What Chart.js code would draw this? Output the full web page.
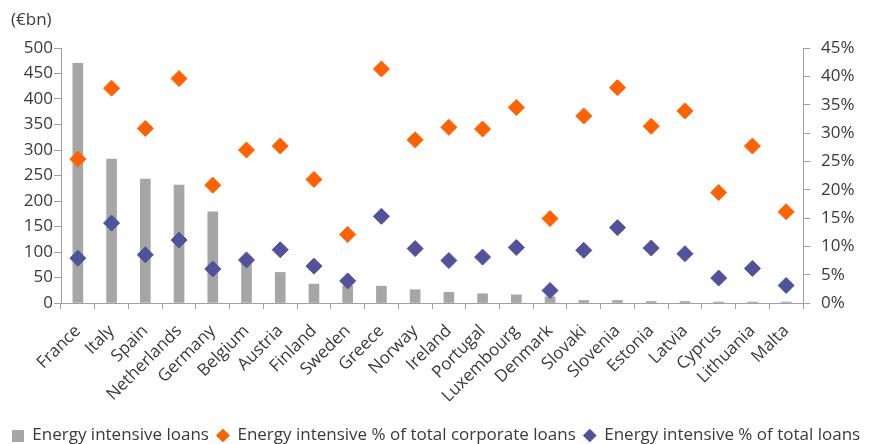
<!DOCTYPE html>
<html>
<head>
<meta charset="utf-8">
<script src="https://cdn.jsdelivr.net/npm/chart.js@4/dist/chart.umd.min.js"></script>
<style>
  html, body { margin: 0; padding: 0; background: #ffffff; }
  #wrap { width: 872px; height: 444px; }
</style>
</head>
<body>
<div id="wrap"><canvas id="chart" width="872" height="444"></canvas></div>
<script>
// Countries on the category axis
const countries = ['France', 'Italy', 'Spain', 'Netherlands', 'Germany', 'Belgium', 'Austria',
  'Finland', 'Sweden', 'Greece', 'Norway', 'Ireland', 'Portugal', 'Luxembourg', 'Denmark',
  'Slovaki', 'Slovenia', 'Estonia', 'Latvia', 'Cyprus', 'Lithuania', 'Malta'];

// Energy intensive loans (€bn)
const energyLoans = [470, 282, 243, 231, 179, 80, 60, 37, 34, 33, 26, 21, 18, 16, 12,
  5, 5, 3, 3, 2, 2, 2];

// Energy intensive share of total corporate loans (%)
const shareCorporate = [25.4, 37.9, 30.8, 39.6, 20.8, 27.0, 27.7, 21.8, 12.1, 41.3, 28.8,
  31.0, 30.7, 34.5, 14.9, 33.0, 38.0, 31.2, 33.9, 19.5, 27.7, 16.1];

// Energy intensive share of total loans (%)
const shareTotal = [7.9, 14.1, 8.5, 11.1, 6.0, 7.6, 9.4, 6.5, 3.9, 15.3, 9.6, 7.5, 8.1,
  9.8, 2.2, 9.3, 13.3, 9.7, 8.7, 4.4, 6.1, 3.1];

// Axis ranges
const leftAxis = { min: 0, max: 500, step: 50 };
const rightAxis = { min: 0, max: 45, step: 5 };

const GREY = '#a6a6a6';
const ORANGE = '#ff6200';
const PURPLE = '#525199';
const TEXT = '#3a3a3a';
const AXIS = '#a0a0a0';
const FONT = "'Open Sans', 'DejaVu Sans', sans-serif";

// small square used as the legend marker of the bar series
const squareMarker = document.createElement('canvas');
squareMarker.width = 12;
squareMarker.height = 12;
(function () {
  const c = squareMarker.getContext('2d');
  c.fillStyle = GREY;
  c.fillRect(0, 0, 12, 12);
})();

// unit label above the left axis
const unitLabel = {
  id: 'unitLabel',
  afterDraw(chart) {
    const ctx = chart.ctx;
    ctx.save();
    ctx.font = '17px ' + FONT;
    ctx.fillStyle = TEXT;
    ctx.textAlign = 'left';
    ctx.textBaseline = 'middle';
    ctx.fillText('(€bn)', 11, 20);
    ctx.restore();
  }
};

new Chart(document.getElementById('chart'), {
  type: 'bar',
  data: {
    labels: countries,
    datasets: [
      {
        type: 'bar',
        label: 'Energy intensive loans',
        data: energyLoans,
        backgroundColor: GREY,
        borderWidth: 0,
        barThickness: 10,
        yAxisID: 'y',
        pointStyle: squareMarker,
        order: 2
      },
      {
        type: 'line',
        label: 'Energy intensive % of total corporate loans',
        data: shareCorporate,
        showLine: false,
        pointStyle: 'rectRot',
        pointRadius: 8,
        pointHoverRadius: 8,
        pointBackgroundColor: ORANGE,
        pointBorderColor: ORANGE,
        pointBorderWidth: 1,
        backgroundColor: ORANGE,
        borderColor: ORANGE,
        yAxisID: 'y1',
        order: 1
      },
      {
        type: 'line',
        label: 'Energy intensive % of total loans',
        data: shareTotal,
        showLine: false,
        pointStyle: 'rectRot',
        pointRadius: 8,
        pointHoverRadius: 8,
        pointBackgroundColor: PURPLE,
        pointBorderColor: PURPLE,
        pointBorderWidth: 1,
        backgroundColor: PURPLE,
        borderColor: PURPLE,
        yAxisID: 'y1',
        order: 1
      }
    ]
  },
  options: {
    responsive: false,
    animation: false,
    devicePixelRatio: 1,
    layout: { padding: { top: 48, left: 0, right: 0, bottom: -10 } },
    plugins: {
      tooltip: { enabled: false },
      legend: {
        position: 'bottom',
        labels: {
          usePointStyle: true,
          boxWidth: 12,
          boxHeight: 9,
          padding: 8,
          color: TEXT,
          font: { family: FONT, size: 17 },
          sort: (a, b) => a.datasetIndex - b.datasetIndex
        }
      }
    },
    scales: {
      x: {
        offset: true,
        grid: {
          offset: true,
          drawOnChartArea: false,
          color: AXIS,
          tickLength: 6,
          tickColor: AXIS
        },
        border: { color: AXIS, width: 1 },
        ticks: {
          autoSkip: false,
          maxRotation: 45,
          minRotation: 45,
          padding: 12,
          color: TEXT,
          font: { family: FONT, size: 17 }
        },
        afterFit(scale) { scale.height = 116; }
      },
      y: {
        position: 'left',
        min: leftAxis.min,
        max: leftAxis.max,
        grid: { drawOnChartArea: false, tickLength: 7, color: AXIS },
        border: { color: AXIS, width: 1 },
        ticks: {
          stepSize: leftAxis.step,
          padding: 1,
          color: TEXT,
          font: { family: FONT, size: 17 }
        },
        afterFit(scale) { scale.width = 61; }
      },
      y1: {
        position: 'right',
        min: rightAxis.min,
        max: rightAxis.max,
        grid: { drawOnChartArea: false, tickLength: 7, color: AXIS },
        border: { color: AXIS, width: 1 },
        ticks: {
          stepSize: rightAxis.step,
          padding: 11,
          color: TEXT,
          font: { family: FONT, size: 17 },
          callback: (v) => v + '%'
        },
        afterFit(scale) { scale.width = 69; }
      }
    }
  },
  plugins: [unitLabel]
});
</script>
</body>
</html>
